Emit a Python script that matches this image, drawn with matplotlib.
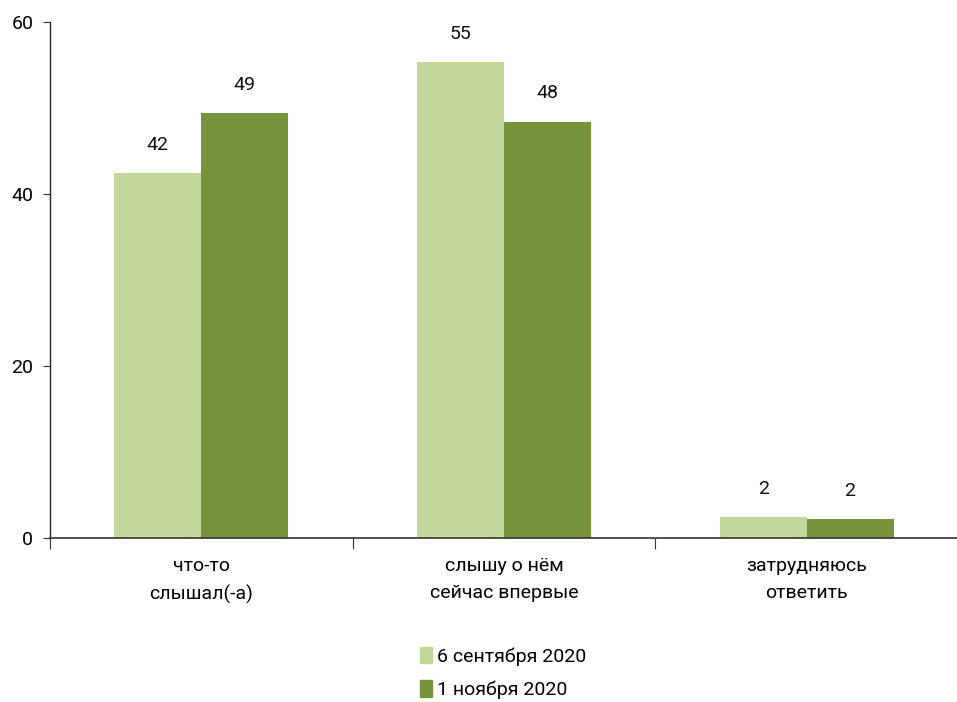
import matplotlib
matplotlib.use("Agg")
import matplotlib.pyplot as plt
import numpy as np
from matplotlib.patches import Patch

categories = ["что-то\nслышал(-а)", "слышу о нём\nсейчас впервые", "затрудняюсь\nответить"]
series_names = ["6 сентября 2020", "1 ноября 2020"]
sep_values = [42.4, 55.3, 2.4]
nov_values = [49.4, 48.4, 2.2]
sep_labels = ["42", "55", "2"]
nov_labels = ["49", "48", "2"]
yticks = [0, 20, 40, 60]

colors = ["#c4d79b", "#77933c"]

plt.rcParams['font.family'] = ['Roboto', 'DejaVu Sans']

fig = plt.figure(figsize=(9.57, 7.02), dpi=100)
ax = fig.add_axes([50/957, (702-538)/702, 908/957, (538-22)/702])

x = np.arange(len(categories))
w = 0.287
b1 = ax.bar(x - w/2, sep_values, w, color=colors[0], label=series_names[0])
b2 = ax.bar(x + w/2, nov_values, w, color=colors[1], label=series_names[1])

for bars, labs in ((b1, sep_labels), (b2, nov_labels)):
    for r, t in zip(bars, labs):
        ax.annotate(t, (r.get_x() + r.get_width()/2, r.get_height()),
                    xytext=(0, 14), textcoords="offset points",
                    ha="center", va="bottom", fontsize=14, color="#111111")

ax.set_xlim(-0.5, len(categories) - 0.5)
ax.set_ylim(0, 60)
ax.set_yticks(yticks)
ax.set_yticklabels([str(v) for v in yticks], fontsize=14)
ax.set_xticks(np.arange(len(categories) + 1) - 0.5)
ax.set_xticklabels([])
ax.set_xticks(x, minor=True)
ax.set_xticklabels(categories, minor=True, fontsize=14, linespacing=1.6)
ax.tick_params(axis="x", which="minor", length=0, pad=14)
ax.tick_params(axis="x", which="major", length=8, direction="out", color="#333333")
ax.tick_params(axis="y", length=5, direction="out", color="#333333", pad=7)
for s in ["top", "right"]:
    ax.spines[s].set_visible(False)
ax.spines["left"].set_color("#222222")
ax.spines["bottom"].set_color("#333333")
ax.spines["left"].set_linewidth(1.0)
ax.spines["bottom"].set_linewidth(1.2)

handles = [Patch(color=colors[0]), Patch(color=colors[1])]
fig.legend(handles, series_names, loc="center", bbox_to_anchor=(503/957, 1 - 673/702),
           frameon=False, fontsize=14, handlelength=0.65, handleheight=0.95,
           handletextpad=0.25, labelspacing=0.75)

fig.savefig("out.png", dpi=100)
